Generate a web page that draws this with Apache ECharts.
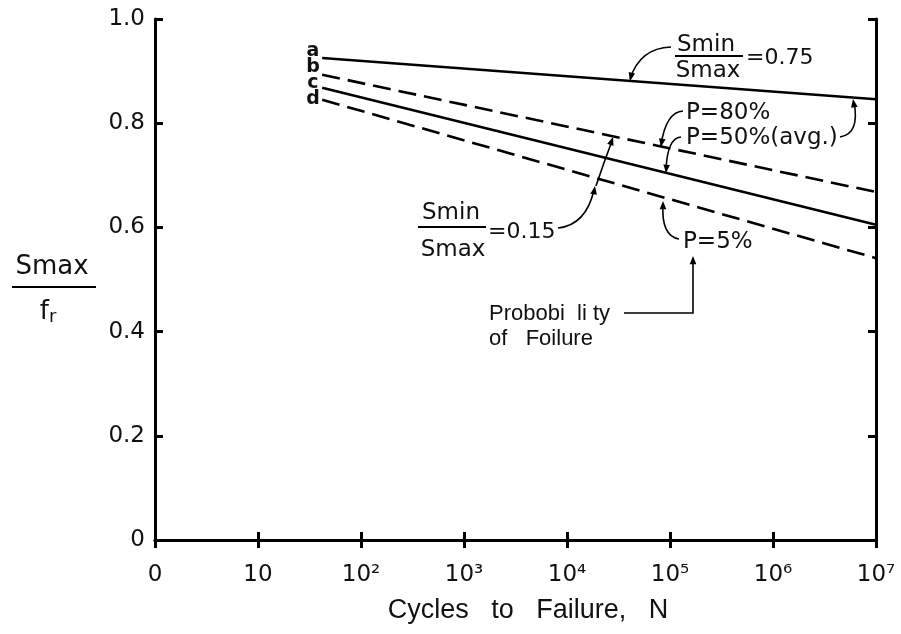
<!DOCTYPE html>
<html><head><meta charset="utf-8">
<script src="https://cdn.jsdelivr.net/npm/echarts@6/dist/echarts.min.js"></script>
<style>html,body{margin:0;padding:0;background:#fff}#c{width:901px;height:634px}</style>
</head><body><div id="c"></div>
<script>
// ---- data ----
const cycles = [42, 1e7];                       // N at start / end of each line
const lineA = [0.925, 0.846];  // Smin/Smax = 0.75, P=50%
const lineB = [0.893, 0.668];  // Smin/Smax = 0.15, P=80%
const lineC = [0.868, 0.605];  // Smin/Smax = 0.15, P=50%
const lineD = [0.845, 0.541];  // Smin/Smax = 0.15, P=5%
const yTicks = [0, 0.2, 0.4, 0.6, 0.8, 1.0];
const xTickLabels = {1:'0', 10:'10', 100:'10²', 1000:'10³', 10000:'10⁴', 100000:'10⁵', 1000000:'10⁶', 10000000:'10⁷'};

const chart = echarts.init(document.getElementById('c'));
const F = 'DejaVu Sans';
function pts(v){ return cycles.map((n,i)=>[n, v[i]]); }
const axLine = {show:true, lineStyle:{color:'#000', width:3}};
const tick = {show:true, inside:true, length:8, lineStyle:{color:'#000', width:3}};

function arrow(tx, ty, fx, fy, s){
  s = s || 9;
  const a = Math.atan2(ty-fy, tx-fx);
  const w = 0.38;
  return {type:'polygon', shape:{points:[[tx,ty],
    [tx - s*Math.cos(a-w), ty - s*Math.sin(a-w)],
    [tx - s*Math.cos(a+w), ty - s*Math.sin(a+w)]]}, style:{fill:'#000'}};
}
function curve(x1,y1,cx,cy,x2,y2){
  return {type:'bezierCurve', shape:{x1,y1,cpx1:cx,cpy1:cy,x2,y2}, style:{stroke:'#000', lineWidth:1.6, fill:null}};
}
function txt(t, x, y, size, align, family, weight){
  return {type:'text', x, y, style:{text:t, fontSize:size, fontFamily:family||F, fontWeight:weight||'normal', fill:'#111', textAlign:align||'left', textVerticalAlign:'middle', verticalAlign:'middle'}};
}
function hline(x1,y,x2,w){ return {type:'line', shape:{x1,y1:y,x2,y2:y}, style:{stroke:'#000', lineWidth:w||2}}; }

const graphics = [
  // curve labels
  txt('a', 313, 51, 19, 'center', F, 'bold'), txt('b', 313, 67, 19, 'center', F, 'bold'),
  txt('c', 313, 83, 19, 'center', F, 'bold'), txt('d', 313, 99, 19, 'center', F, 'bold'),
  // Smin/Smax = 0.75
  txt('Smin', 706, 45, 23, 'center'), hline(675, 56, 743, 2.2), txt('Smax', 708, 71, 23, 'center'),
  txt('=0.75', 746, 58, 22),
  curve(671, 47, 640, 48, 630, 79), arrow(630, 81, 633, 68),
  // P=80% / P=50% (avg.)
  txt('P=80%', 686, 113, 23), txt('P=50%(avg.)', 686, 138, 23),
  curve(683, 111, 666, 112, 661, 145), arrow(661, 147, 663, 134),
  curve(681, 137, 667, 138, 666, 171), arrow(666, 173, 667, 160),
  curve(840, 137, 860, 134, 854, 102), arrow(853, 99, 855, 111),
  // Smin/Smax = 0.15
  txt('Smin', 451, 213, 23, 'center'), hline(418, 227, 486, 2.2), txt('Smax', 453, 250, 23, 'center'),
  txt('=0.15', 488, 232, 22),
  curve(558, 228, 586, 225, 594, 190), arrow(595, 186, 593, 198),
  curve(596, 186, 604, 162, 612, 141), arrow(613, 137, 609, 149),
  // P=5%
  txt('P=5%', 683, 242, 23),
  curve(679, 239, 661, 236, 663, 204), arrow(663, 201, 663, 213),
  // Probability of failure
  txt('Probobi  li ty', 489, 314, 22, 'left', 'Liberation Sans'),
  txt('of   Foilure', 489, 339, 22, 'left', 'Liberation Sans'),
  {type:'polyline', shape:{points:[[624,313],[693,313],[693,264]]}, style:{stroke:'#000', lineWidth:1.6, fill:null}},
  arrow(693, 256, 693, 268),
  // y axis name Smax / fr
  txt('Smax', 52, 267, 26, 'center'), hline(12, 287, 96, 2.2),
  {type:'text', x:48, y:312, style:{text:'{f|f}{r|r}', rich:{f:{fontSize:26, fontFamily:F, fill:'#111'}, r:{fontSize:18, fontFamily:F, fill:'#111', padding:[10,0,0,0]}}, textAlign:'center', textVerticalAlign:'middle', verticalAlign:'middle'}},
  // x axis name
  txt('Cycles   to   Failure,   N', 528, 611, 27, 'center', 'Liberation Sans')
];

const dashed = [18, 8];
chart.setOption({
  animation:false,
  backgroundColor:'#fff',
  grid:{left:155, right:25, top:19, bottom:94, containLabel:false},
  xAxis:[
    {type:'log', logBase:10, min:1, max:1e7, axisLine:axLine, axisTick:tick, splitLine:{show:false}, minorTick:{show:false},
     axisLabel:{color:'#111', fontFamily:F, fontSize:23, margin:24,
       formatter:function(v){ const t = xTickLabels[Math.round(v)]; if(!t) return ''; return t; }}},
    {type:'log', logBase:10, min:1, max:1e7, position:'top', axisLine:axLine, axisTick:tick, axisLabel:{show:false}, splitLine:{show:false}}
  ],
  yAxis:[
    {type:'value', min:0, max:1, interval:0.2, axisLine:axLine, axisTick:tick, splitLine:{show:false},
     axisLabel:{color:'#111', fontFamily:F, fontSize:23, margin:10, formatter:function(v){
       const i = yTicks.findIndex(t=>Math.abs(t-v)<1e-6); if(i<0) return ''; return v===0?'0':yTicks[i].toFixed(1);}}},
    {type:'value', min:0, max:1, interval:0.2, position:'right', axisLine:axLine, axisTick:tick, axisLabel:{show:false}, splitLine:{show:false}}
  ],
  series:[
    {name:'a', type:'line', data:pts(lineA), symbol:'none', lineStyle:{color:'#000', width:2.6, type:'solid'}},
    {name:'b', type:'line', data:pts(lineB), symbol:'none', lineStyle:{color:'#000', width:2.6, type:dashed}},
    {name:'c', type:'line', data:pts(lineC), symbol:'none', lineStyle:{color:'#000', width:2.6, type:'solid'}},
    {name:'d', type:'line', data:pts(lineD), symbol:'none', lineStyle:{color:'#000', width:2.6, type:dashed}}
  ],
  graphic: graphics
});
</script></body></html>
